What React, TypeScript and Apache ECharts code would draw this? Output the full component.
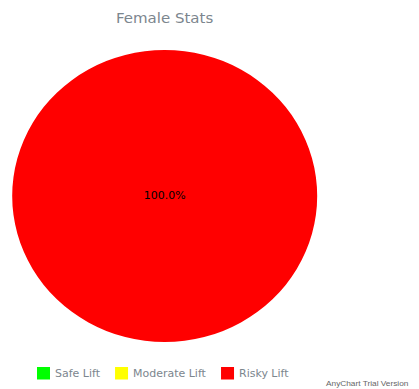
import React, { useEffect, useRef } from "react";
import * as echarts from "echarts";

const categories = ["Safe Lift", "Moderate Lift", "Risky Lift"];
const values = [0, 0, 1];
const colors = ["#00ff00", "#ffff00", "#ff0000"];
const titleText = "Female Stats";
const watermark = "AnyChart Trial Version";

// the reference pie is slightly elliptical; scale the canvas vertically
const S = 292 / 305;
const W = 419;
const H = 389 / S;

export default function App() {
  const ref = useRef<HTMLDivElement>(null);
  useEffect(() => {
    if (!ref.current) return;
    const chart = echarts.init(ref.current, undefined, { renderer: "svg" });
    chart.setOption({
      animation: false,
      backgroundColor: "#ffffff",
      title: [
        {
          text: titleText,
          left: 116,
          top: 11,
          padding: 0,
          textStyle: {
            fontFamily: "DejaVu Sans",
            fontSize: 15,
            fontWeight: "normal",
            color: "#7c868e",
          },
        },
        {
          text: watermark,
          left: 326,
          top: 396.5,
          padding: 0,
          textStyle: {
            fontFamily: "Liberation Sans",
            fontSize: 8.3,
            fontWeight: "normal",
            color: "#666666",
          },
        },
      ],
      legend: {
        data: categories,
        left: 37,
        top: 367 / S,
        padding: 0,
        itemGap: 15,
        itemWidth: 13,
        itemHeight: 13,
        icon: "rect",
        selectedMode: false,
        textStyle: {
          fontFamily: "DejaVu Sans",
          fontSize: 11,
          color: "#7c868e",
        },
      },
      series: [
        {
          type: "pie",
          center: [164.7, 196 / S],
          radius: 152.5,
          startAngle: 90,
          clockwise: true,
          silent: true,
          stillShowZeroSum: false,
          label: {
            show: true,
            position: "center",
            fontFamily: "DejaVu Sans",
            fontSize: 11,
            color: "#000000",
            formatter: (p: any) => (p.value > 0 ? p.percent.toFixed(1) + "%" : ""),
          },
          labelLine: { show: false },
          emphasis: { disabled: true },
          itemStyle: { borderWidth: 0 },
          data: categories.map((name, i) => ({
            name,
            value: values[i],
            itemStyle: { color: colors[i] },
          })),
        },
      ],
    });
    return () => chart.dispose();
  }, []);
  return (
    <div
      ref={ref}
      style={{
        position: "absolute",
        left: 0,
        top: 0,
        width: W,
        height: H,
        transform: `scaleY(${S})`,
        transformOrigin: "0 0",
      }}
    />
  );
}
